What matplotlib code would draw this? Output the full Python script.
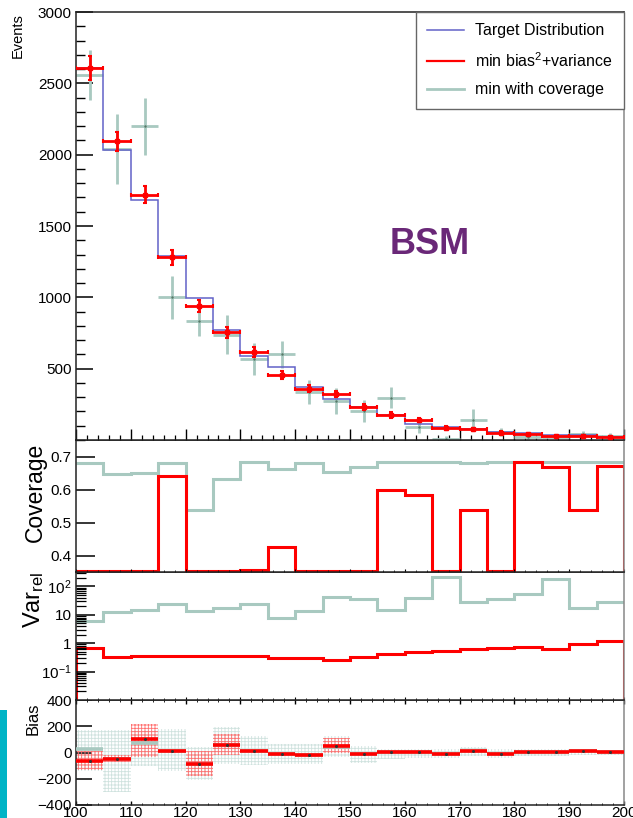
import numpy as np
import matplotlib
matplotlib.use("Agg")
import matplotlib.pyplot as plt
from matplotlib.lines import Line2D
from matplotlib.patches import Rectangle
from matplotlib.ticker import MultipleLocator, LogLocator, NullFormatter, FixedLocator

plt.rcParams['font.family'] = ['Liberation Sans', 'DejaVu Sans']
plt.rcParams['hatch.linewidth'] = 0.6
plt.rcParams['mathtext.default'] = 'regular'

# =========================
# DATA
# =========================
bin_edges = np.arange(100, 205, 5)

target = [2610, 2030, 1685, 1288, 993, 770, 588, 509, 371, 287,
          233, 175, 112, 93, 78, 58, 47, 35, 33, 23]
min_bv = [2610, 2093, 1720, 1280, 939, 756, 616, 455, 359, 320,
          229, 175, 140, 86, 75, 51, 40, 28, 28, 19]
min_bv_err = [84, 65, 58, 50, 41, 39, 35, 26, 25, 22,
              20, 18, 15, 13, 12, 10, 9, 8, 8, 7]
min_cov = [2558, 2042, 2198, 1000, 835, 738, 569, 601, 335, 273,
           205, 297, 93, 9, 140, 57, 18, 23, 42, 28]
min_cov_err = [173, 245, 199, 152, 105, 136, 113, 94, 84, 88,
               76, 72, 47, 20, 80, 30, 20, 20, 20, 20]

# coverage (0 = below the frame)
coverage_bv = [0, 0, 0, 0.640, 0, 0, 0.357, 0.426, 0, 0,
               0, 0.598, 0.584, 0, 0.538, 0, 0.682, 0.669, 0.538, 0.671]
coverage_cov = [0.679, 0.646, 0.649, 0.679, 0.538, 0.632, 0.682, 0.661, 0.679, 0.654,
                0.669, 0.683, 0.683, 0.683, 0.679, 0.683, 0.683, 0.683, 0.683, 0.683]

# relative variance
var_bv = [0.67, 0.33, 0.34, 0.34, 0.35, 0.35, 0.35, 0.31, 0.30, 0.26,
          0.33, 0.42, 0.47, 0.52, 0.61, 0.68, 0.76, 0.63, 0.92, 1.23]
var_cov = [6.1, 12.9, 14.9, 23.6, 13.7, 17.9, 23.6, 7.6, 14.1, 43.8,
           36.3, 14.9, 38.4, 210, 27.8, 36.3, 53, 180, 17.1, 29]

# bias
bias_bv = [-62, -47, 105, 10, -87, 55, 15, -15, -20, 48,
           -13, 6, 6, -8, 10, -8, 4, 4, 8, 4]
bias_bv_lo = [-136, -70, -34, -5, -180, -20, 5, -25, -30, 0,
              -22, -4, -4, -18, 0, -18, -6, -6, -2, -6]
bias_bv_hi = [8, -22, 218, 25, 8, 140, 30, -5, -10, 110,
              -4, 16, 16, 2, 20, 2, 14, 14, 18, 14]
bias_cov = [25, -50, 69, 10, -85, 55, 15, -15, -20, 45,
            -15, 5, 5, -8, 10, -8, 3, 3, 8, 3]
bias_cov_lo = [-143, -300, -102, -141, -213, -85, -95, -90, -90, -38,
               -77, -50, -40, -45, -30, -40, -25, -25, -20, -20]
bias_cov_hi = [172, 172, 172, 178, 40, 192, 128, 64, 64, 128,
               51, 30, 30, 25, 40, 25, 25, 25, 25, 20]

# =========================
# STYLE
# =========================
c_target = '#6262c8'
c_bv = '#ff0000'
c_cov = '#a8c9c0'
c_bsm = '#6a2878'

centers = 0.5 * (bin_edges[:-1] + bin_edges[1:])
half_w = 0.5 * np.diff(bin_edges)

fig = plt.figure(figsize=(6.33, 8.18), dpi=100)

W, H = 633.0, 818.0
def pane(top, bottom, left=76, right=624):
    return fig.add_axes([left / W, 1 - bottom / H, (right - left) / W, (bottom - top) / H])

ax_bias = pane(700, 805)
ax_var = pane(572, 700)
ax_cov = pane(440, 572)
ax_main = pane(12, 440)

def frame(ax):
    for s in ['left', 'bottom', 'top']:
        ax.spines[s].set_color('#222222')
        ax.spines[s].set_linewidth(1.1)
    ax.spines['right'].set_color('#888888')
    ax.spines['right'].set_linewidth(1.1)
    ax.set_xlim(100, 200)
    ax.xaxis.set_major_locator(MultipleLocator(10))
    ax.xaxis.set_minor_locator(MultipleLocator(2))

# =========================
# MAIN PANEL
# =========================
frame(ax_main)
ax_main.errorbar(centers, min_cov, xerr=half_w, yerr=min_cov_err, fmt='.', ms=1.5,
                 color=c_cov, mec='#557766', lw=2.0, capsize=0, zorder=2)
ax_main.stairs(target, bin_edges, color=c_target, lw=1.1, baseline=None, zorder=3)
ax_main.errorbar(centers, min_bv, xerr=half_w, yerr=min_bv_err, fmt='s', ms=2.2,
                 color=c_bv, lw=2.0, capsize=1.5, capthick=1.5, zorder=4)
ax_main.set_ylim(0, 3000)
ax_main.yaxis.set_major_locator(FixedLocator([500, 1000, 1500, 2000, 2500, 3000]))
ax_main.yaxis.set_minor_locator(MultipleLocator(100))
ax_main.tick_params(axis='y', which='major', direction='in', length=12, width=1.1, labelsize=11, pad=3)
ax_main.tick_params(axis='y', which='minor', direction='in', length=6.5, width=1.0)
ax_main.tick_params(axis='x', which='major', direction='in', length=8, width=1.0, labelbottom=False)
ax_main.tick_params(axis='x', which='minor', direction='in', length=3.6, width=0.9)

handles = [Line2D([], [], color=c_target, lw=1.1),
           Line2D([], [], color=c_bv, lw=1.6),
           Line2D([], [], color=c_cov, lw=2.0)]
leg = ax_main.legend(handles, ['Target Distribution', r'min bias$^2$+variance', 'min with coverage'],
                     loc='upper right', bbox_to_anchor=(1.0, 1.0), borderaxespad=0,
                     fontsize=11.5, handlelength=2.3, labelspacing=0.8, borderpad=0.7,
                     handletextpad=0.7, fancybox=False, framealpha=1)
leg.get_frame().set_edgecolor('#666666')
leg.get_frame().set_linewidth(1.0)

ax_main.text(0.646, 0.456, 'BSM', transform=ax_main.transAxes, ha='center', va='center',
             fontsize=26, fontweight='bold', color=c_bsm)

# =========================
# COVERAGE PANEL
# =========================
frame(ax_cov)
cov_lo, cov_hi = 0.35, 0.75
ax_cov.stairs(np.clip(coverage_cov, cov_lo, cov_hi), bin_edges, color=c_cov, lw=2.2, baseline=None)
ax_cov.stairs(np.clip(coverage_bv, cov_lo + 0.004, cov_hi), bin_edges, color=c_bv, lw=2.2,
              baseline=cov_lo + 0.004)
ax_cov.set_ylim(cov_lo, cov_hi)
ax_cov.set_yticks([0.4, 0.5, 0.6, 0.7])
ax_cov.tick_params(axis='y', which='major', direction='in', length=14, width=1.1, labelsize=11, pad=3)
ax_cov.tick_params(axis='y', which='minor', left=False)
ax_cov.tick_params(axis='x', which='major', direction='in', length=2.5, labelbottom=False)
ax_cov.tick_params(axis='x', which='minor', direction='in', length=1.2)

# =========================
# RELATIVE VARIANCE PANEL
# =========================
frame(ax_var)
ax_var.set_yscale('log')
var_lo, var_hi = 1e-2, 320
ax_var.stairs(var_cov, bin_edges, color=c_cov, lw=2.2, baseline=None)
ax_var.stairs(var_bv, bin_edges, color=c_bv, lw=2.2, baseline=var_lo)
ax_var.set_ylim(var_lo, var_hi)
ax_var.yaxis.set_major_locator(FixedLocator([0.1, 1, 10, 100]))
ax_var.set_yticklabels([r'10$^{-1}$', '1', '10', r'10$^{2}$'])
ax_var.yaxis.set_minor_locator(LogLocator(base=10, subs=np.arange(2, 10), numticks=20))
ax_var.yaxis.set_minor_formatter(NullFormatter())
ax_var.tick_params(axis='y', which='major', direction='in', length=14, width=1.1, labelsize=11, pad=3)
ax_var.tick_params(axis='y', which='minor', direction='in', length=7, width=0.9)
ax_var.tick_params(axis='x', which='major', direction='in', length=2.5, labelbottom=False)
ax_var.tick_params(axis='x', which='minor', direction='in', length=1.2)

# =========================
# BIAS PANEL
# =========================
frame(ax_bias)
ax_bias.bar(centers, np.subtract(bias_cov_hi, bias_cov_lo), bottom=bias_cov_lo, width=2 * half_w,
            fill=False, hatch='+++++', edgecolor='#cfe2de', linewidth=0, zorder=1)
ax_bias.bar(centers, np.subtract(bias_bv_hi, bias_bv_lo), bottom=bias_bv_lo, width=2 * half_w,
            fill=False, hatch='+++++', edgecolor='#ff7070', linewidth=0, zorder=2)
ax_bias.hlines(bias_cov, bin_edges[:-1], bin_edges[1:], color=c_cov, lw=2.6, zorder=3)
ax_bias.hlines(bias_bv, bin_edges[:-1], bin_edges[1:], color=c_bv, lw=2.6, zorder=4)
ax_bias.plot(centers, bias_bv, 'o', ms=1.2, color='#333333', zorder=5)
ax_bias.set_ylim(-400, 400)
ax_bias.set_yticks([-400, -200, 0, 200, 400])
ax_bias.set_yticklabels(['\u2212400', '\u2212200', '0', '200', '400'])
ax_bias.tick_params(axis='y', which='major', direction='in', length=11.5, width=1.1, labelsize=11, pad=3)
ax_bias.tick_params(axis='y', which='minor', left=False)
ax_bias.tick_params(axis='x', which='major', direction='in', length=3, width=1.0, top=True,
                    labelsize=11, pad=0.5)
ax_bias.tick_params(axis='x', which='minor', direction='in', length=1.5, top=True)

# =========================
# AXIS TITLES
# =========================
fig.text(18 / W, 1 - 13 / H, 'Events', rotation=90, ha='center', va='top', fontsize=10.5)
fig.text(35 / W, 1 - 492 / H, 'Coverage', rotation=90, ha='center', va='center', fontsize=16.5)
fig.text(34 / W, 1 - 600 / H, r'Var$_{rel}$', rotation=90, ha='center', va='center', fontsize=17)
fig.text(33 / W, 1 - 719 / H, 'Bias', rotation=90, ha='center', va='center', fontsize=12)

# cyan slide strip at the lower left
fig.add_artist(Rectangle((0, 0), 7 / W, 1 - 710 / H, transform=fig.transFigure,
                         color='#00b4c6', lw=0))

fig.savefig("out.png", dpi=100)
